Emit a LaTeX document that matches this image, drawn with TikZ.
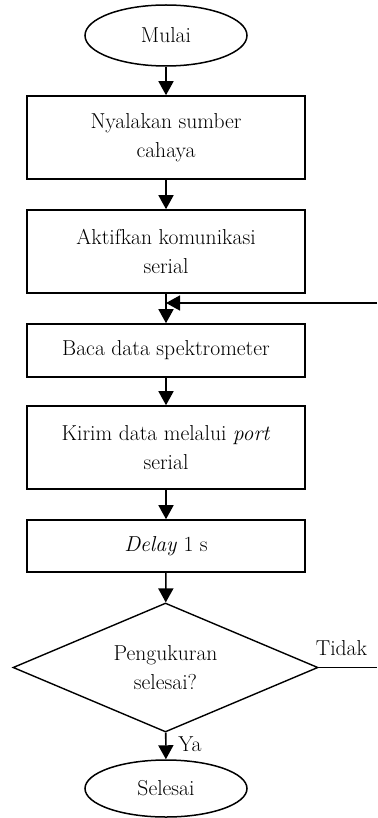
\documentclass[tikz,border=0pt]{standalone}
\usetikzlibrary{shapes.geometric,arrows.meta}
\tikzset{
  txt/.style={font=\fontsize{21.6pt}{29pt}\selectfont},
  term/.style={txt,ellipse,draw,line width=1.5pt,minimum width=162pt,inner sep=0pt},
  proc/.style={txt,rectangle,draw,line width=1.6pt,minimum width=278pt,inner sep=0pt,align=center},
  decis/.style={txt,diamond,draw,line width=1.4pt,minimum width=305pt,minimum height=129pt,aspect=2.36,inner sep=0pt,align=center},
  arr/.style={line width=1.6pt,-{Triangle[length=14pt,width=15pt]}},
  lin/.style={line width=1.6pt},
  lbl/.style={txt,inner sep=0pt}
}
\begin{document}
\begin{tikzpicture}[x=1pt,y=-1pt]
\useasboundingbox (0,0) rectangle (377,818);
\node[term,minimum height=61pt] (start) at (166,35.5) {Mulai};
\node[proc,minimum height=83pt] (s1) at (166,137.5) {Nyalakan sumber\\cahaya};
\node[proc,minimum height=83pt] (s2) at (166,251.5) {Aktifkan komunikasi\\serial};
\node[proc,minimum height=53pt] (s3) at (166,350.5) {Baca data spektrometer};
\node[proc,minimum height=83pt] (s4) at (166,447.5) {Kirim data melalui \textit{port}\\serial};
\node[proc,minimum height=52pt] (s5) at (166,546) {\textit{Delay} 1 s};
\node[decis] (dec) at (165.5,667.5) {Pengukuran\\selesai?};
\node[term,minimum height=57pt] (stop) at (166,788.5) {Selesai};
\coordinate (fb) at (377,303);
\coordinate (tdk) at (377,667.5);
\draw[arr] (start) -- (s1);
\draw[arr] (s1) -- (s2);
\draw[arr] (s2) -- (s3);
\draw[arr] (fb) -- (s2.south |- fb);
\draw[arr] (s3) -- (s4);
\draw[arr] (s4) -- (s5);
\draw[arr] (s5) -- (dec);
\draw[arr] (dec) -- (stop);
\draw[lin] (dec.east) -- (tdk);
\node[lbl] (tidak) at (341.5,648.5) {Tidak};
\node[lbl] (ya) at (190,744) {Ya};
\end{tikzpicture}
\end{document}
